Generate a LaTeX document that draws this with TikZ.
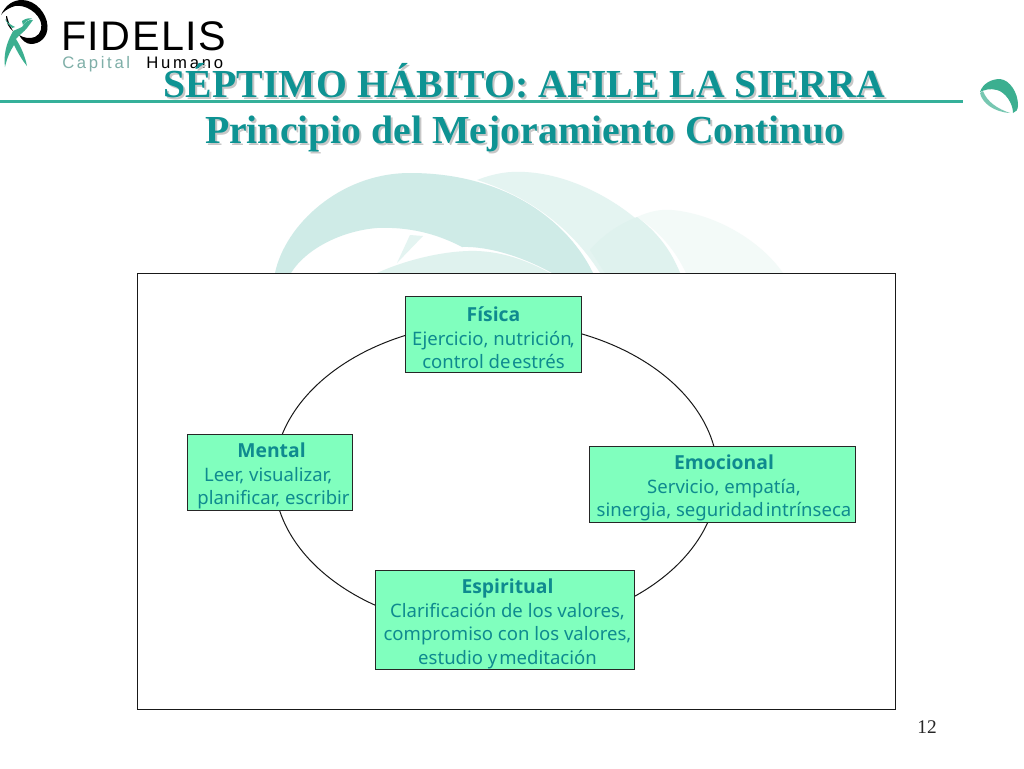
\documentclass[tikz,border=0pt]{standalone}
\usepackage{fontspec}
\usetikzlibrary{shapes.geometric}
\setmainfont{Liberation Serif}
\newfontfamily\bodyfont{Noto Sans}
\newfontfamily\headfont{Open Sans}[UprightFont=* Bold]
\newfontfamily\logofont{Liberation Sans}
\newfontfamily\logowide{Liberation Sans}[LetterSpace=3.5]
\definecolor{tealtitle}{HTML}{0E9393}
\definecolor{boxgreen}{HTML}{80FFBE}
\definecolor{boxtext}{HTML}{0F8A8F}
\definecolor{linegreen}{HTML}{35B09A}
\definecolor{logogreen}{HTML}{3CAF90}
\definecolor{capgray}{HTML}{7FAFA8}
\definecolor{swA}{HTML}{CFEBE7}
\definecolor{swB}{HTML}{E4F4F1}
\definecolor{swC}{HTML}{F3FAF8}
\definecolor{swD}{HTML}{DFF2EE}
\tikzset{
  x=0.75pt,y=-0.75pt,
  card/.style={draw=black!85,line width=0.7pt,fill=boxgreen,inner sep=0pt,outer sep=0pt,anchor=north west},
  cardtext/.style={text=boxtext,align=center,inner sep=0pt,font=\bodyfont\fontsize{13.9}{17.6}\selectfont},
  titletext/.style={anchor=base,text=tealtitle,font=\bfseries\fontsize{29.8}{32}\selectfont,inner sep=0pt},
  titleshade/.style={anchor=base,text=black!22,font=\bfseries\fontsize{29.8}{32}\selectfont,inner sep=0pt},
}
\newcommand{\hd}[1]{{\headfont\fontsize{14.5}{17.6}\selectfont #1}}
\begin{document}
\begin{tikzpicture}
\useasboundingbox (0,0) rectangle (1024,768);
\fill[white] (0,0) rectangle (1024,768);
% background swooshes
\fill[swC] (637,217) .. controls (650,211) and (662,209) .. (672,210) .. controls (715,214) and (760,240) .. (783,273) -- (686,273) .. controls (675,250) and (660,232) .. (637,217) -- cycle;
\fill[swB] (477,180) .. controls (495,173) and (510,171) .. (525,172) .. controls (585,175) and (655,220) .. (680,273) -- (600,273) .. controls (570,225) and (525,195) .. (477,180) -- cycle;
\fill[swD] (590,250) .. controls (605,233) and (620,224) .. (637,217) .. controls (657,232) and (671,250) .. (680,273) -- (605,273) -- cycle;
\fill[swA] (275,273) .. controls (285,225) and (340,173) .. (410,173) .. controls (510,173) and (570,225) .. (593,273) -- (552,273) .. controls (525,258) and (490,246) .. (462,247) .. controls (430,230) and (400,227) .. (377,228) .. controls (340,231) and (305,250) .. (291,273) -- cycle;
\fill[swB] (397,263) -- (410,235) -- (423,236) -- cycle;
\fill[swD] (377,273) .. controls (410,258) and (450,250) .. (477,251) .. controls (505,252) and (530,262) .. (550,273) -- cycle;
% header line
\fill[linegreen] (0,100.4) rectangle (963,102.6);
% logo
\fill[black] (1,15) .. controls (6,4) and (14,0) .. (22,0) .. controls (36,0) and (47,14) .. (47.5,26) .. controls (48,37) and (40,44) .. (31,44) .. controls (26,44) and (22,40) .. (19,35) .. controls (24,38) and (30,39) .. (35,37) .. controls (41,34) and (43,27) .. (40,20) .. controls (35,9) and (20,3) .. (12,7) .. controls (7,9) and (3,12) .. (1,15) -- cycle;
\fill[black] (6,16) .. controls (6,23) and (9,28) .. (13,31) .. controls (10,26) and (8,21) .. (7,16) -- cycle;
\fill[logogreen] (33,20) .. controls (29,19) and (25,22) .. (22,27) .. controls (18,29) and (15,30) .. (13,31) .. controls (9,39) and (3,50) .. (5,67) .. controls (7,58) and (10,51) .. (14,45) .. controls (18,53) and (22,60) .. (27,66) .. controls (25,56) and (21,47) .. (16,39) .. controls (19,35) and (24,32) .. (27,28) .. controls (29,25) and (31,23) .. (33,20) -- cycle;
\fill[logogreen] (12,28) .. controls (9,25) and (7,23) .. (5,19) .. controls (8,23) and (11,25) .. (15,27) -- cycle;
\fill[logogreen] (22,21) .. controls (26,18) and (30,18) .. (32,18.5) .. controls (28,20) and (25,22) .. (23,25) -- cycle;
\node[anchor=base west,inner sep=0pt,font=\logowide\fontsize{31}{31}\selectfont,text=black] (logoname) at (61,50) {FIDELIS};
\node[anchor=base west,inner sep=0pt,font=\logofont\fontsize{12.5}{14}\selectfont,text=capgray] (logoa) at (62,68) {C\hspace{2pt}a\hspace{2pt}p\hspace{2pt}i\hspace{2pt}t\hspace{2pt}a\hspace{2pt}l};
\node[anchor=base west,inner sep=0pt,font=\logofont\fontsize{12.5}{14}\selectfont,text=black] (logob) at (146,68) {H\hspace{2.1pt}u\hspace{2.1pt}m\hspace{2.1pt}a\hspace{2.1pt}n\hspace{2.1pt}o};
% ring right
\fill[logogreen] (980,92) .. controls (983,83) and (992,79) .. (1000,79) .. controls (1010,80) and (1018,93) .. (1018,105) .. controls (1018,110) and (1016,112) .. (1013,113) .. controls (1013,103) and (1005,92) .. (997,90) .. controls (990,88) and (984,90) .. (980,92) -- cycle;
\fill[logogreen!70] (980,93) .. controls (982,103) and (994,112) .. (1010,113) .. controls (998,109) and (987,102) .. (983,91) -- cycle;
% title
\node[titleshade] (t1s) at (526.5,99) {SÉPTIMO HÁBITO: AFILE LA SIERRA};
\node[titleshade] (t2s) at (526.5,145) {Principio del Mejoramiento Continuo};
\node[titletext] (t1) at (524.5,97) {SÉPTIMO HÁBITO: AFILE LA SIERRA};
\node[titletext] (t2) at (524.5,143) {Principio del Mejoramiento Continuo};
% frame
\node[draw=black!90,line width=0.7pt,fill=white,anchor=north west,minimum width=568.5pt,minimum height=327pt,inner sep=0pt,outer sep=0pt] (frame) at (137,273) {};
% cycle
\node[draw=black!90,line width=0.75pt,shape=ellipse,minimum width=333pt,minimum height=231pt,inner sep=0pt] (cycle) at (496,476) {};
% cards
\node[card,minimum width=132pt,minimum height=57.5pt] (fisica) at (405,296) {};
\node[cardtext] (fisicat) at (493.5,338) {\hd{Física}\\Ejercicio, nutrición\kern-1.5pt,\\control de\hspace{1.2pt}estrés};
\node[card,minimum width=123.75pt,minimum height=57.5pt] (mental) at (187.5,434) {};
\node[cardtext,align=left] (mentalt) at (273.5,476) {\hspace*{30pt}\hd{Mental}\\\hspace*{5pt}Leer, visualizar,\\\hspace*{0pt}planificar, escribir};
\node[card,minimum width=199.5pt,minimum height=57.5pt] (emocional) at (589,446) {};
\node[cardtext] (emocionalt) at (724,488) {\hd{Emocional}\\Servicio, empatía,\\sinergia, seguridad\hspace{1.5pt}intrínseca};
\node[card,minimum width=194pt,minimum height=74.5pt] (espiritual) at (375.5,570) {};
\node[cardtext] (espiritualt) at (507.5,624) {\hd{Espiritual}\\Clarificación de los valores,\\compromiso con los valores,\\estudio y\hspace{1.5pt}meditación};
\node[inner sep=0pt,font=\fontsize{14.5}{16}\selectfont,text=black!85] (page) at (927,727) {12};
\end{tikzpicture}
\end{document}
